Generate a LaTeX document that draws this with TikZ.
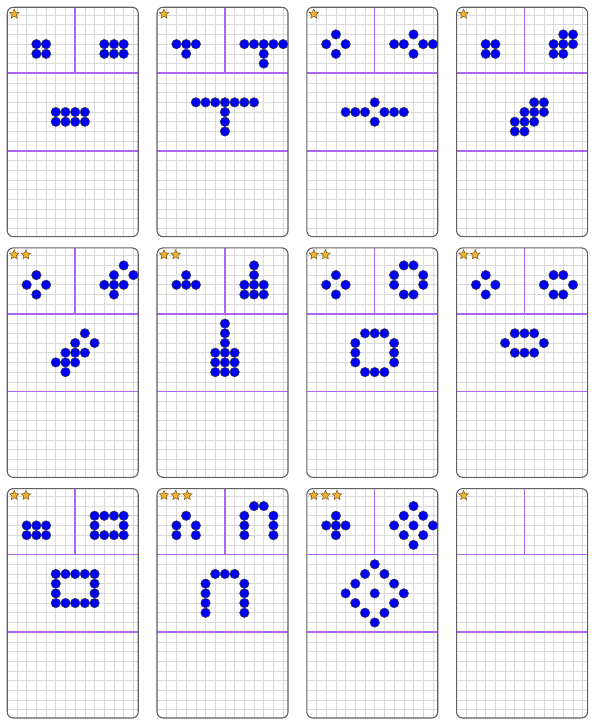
\documentclass[tikz,border=0pt]{standalone}
\usetikzlibrary{shapes.geometric}
\definecolor{gridgray}{HTML}{DADADA}
\definecolor{violet}{HTML}{AC66F2}
\definecolor{edgegray}{HTML}{606060}
\definecolor{counterblue}{HTML}{0000F2}
\definecolor{gold}{HTML}{F2B531}
\definecolor{starline}{HTML}{7A5716}
\tikzset{cardedge/.style={draw=edgegray,line width=1.1bp,rounded corners=6bp},
  gridline/.style={draw=gridgray,line width=0.6bp},
  divider/.style={draw=violet,line width=1.5bp},
  counter/.style={fill=counterblue,draw=black!75,line width=0.5bp},
  starmark/.style={star,star points=5,star point ratio=2.2,minimum size=10bp,
  inner sep=0pt,fill=gold,draw=starline,line width=0.5bp}}

% card frame: column, row, number of stars
\newcommand{\patterncard}[3]{%
  \begin{scope}[shift={({0.75+15.44*#1},{0.75+24.81*#2})}]
    \begin{scope}
      \clip[rounded corners=6bp] (0,0) rectangle (13.5,23.65);
      \foreach \gx in {1,...,13} \draw[gridline] (\gx,0) -- (\gx,23.65);
      \foreach \gy in {-6,...,16} \draw[gridline] (0,{6.8+\gy}) -- (13.5,{6.8+\gy});
    \end{scope}
    \draw[divider] (7,0) -- (7,6.8) (0,6.8) -- (13.5,6.8) (0,14.8) -- (13.5,14.8);
    \foreach \s in {1,...,#3}
      \node[starmark] (star\s) at ({0.72+1.2*(\s-1)},0.7) {};
    \draw[cardedge] (0,0) rectangle (13.5,23.65);
  \end{scope}}
% counters, y counted from the upper divider
\newcommand{\counters}[3]{%
  \begin{scope}[shift={({0.75+15.44*#1},{0.75+24.81*#2+6.8})}]
    \foreach \dx/\dy in {#3} \draw[counter] (\dx,\dy) circle (0.49);
  \end{scope}}

\begin{document}
\begin{tikzpicture}[x=9.7bp,y=-9.7bp]
\useasboundingbox (0,0) rectangle (61.34,75.05);
\patterncard{0}{0}{1}
\counters{0}{0}{3/-3,4/-3,3/-2,4/-2, 10/-3,11/-3,12/-3,10/-2,11/-2,12/-2,
  5/4,6/4,7/4,8/4,5/5,6/5,7/5,8/5}
\patterncard{1}{0}{1}
\counters{1}{0}{2/-3,3/-3,4/-3,3/-2, 9/-3,10/-3,11/-3,12/-3,13/-3,11/-2,11/-1,
  4/3,5/3,6/3,7/3,8/3,9/3,10/3,7/4,7/5,7/6}
\patterncard{2}{0}{1}
\counters{2}{0}{3/-4,2/-3,4/-3,3/-2, 9/-3,10/-3,11/-4,11/-2,12/-3,13/-3,
  4/4,5/4,6/4,7/3,7/5,8/4,9/4,10/4}
\patterncard{3}{0}{1}
\counters{3}{0}{3/-3,4/-3,3/-2,4/-2, 11/-4,12/-4,10/-3,11/-3,12/-3,10/-2,11/-2,
  8/3,9/3,7/4,8/4,9/4,6/5,7/5,8/5,6/6,7/6}
\patterncard{0}{1}{2}
\counters{0}{1}{3/-4,2/-3,4/-3,3/-2, 12/-5,11/-4,13/-4,10/-3,11/-3,12/-3,11/-2,
  8/2,7/3,9/3,6/4,7/4,8/4,5/5,6/5,7/5,6/6}
\patterncard{1}{1}{2}
\counters{1}{1}{3/-4,2/-3,3/-3,4/-3, 10/-5,10/-4,9/-3,10/-3,11/-3,9/-2,10/-2,11/-2,
  7/1,7/2,7/3,6/4,7/4,8/4,6/5,7/5,8/5,6/6,7/6,8/6}
\patterncard{2}{1}{2}
\counters{2}{1}{3/-4,2/-3,4/-3,3/-2, 10/-5,11/-5,9/-4,12/-4,9/-3,12/-3,10/-2,11/-2,
  6/2,7/2,8/2,5/3,9/3,5/4,9/4,5/5,9/5,6/6,7/6,8/6}
\patterncard{3}{1}{2}
\counters{3}{1}{3/-4,2/-3,4/-3,3/-2, 10/-4,11/-4,9/-3,12/-3,10/-2,11/-2,
  6/2,7/2,8/2,5/3,9/3,6/4,7/4,8/4}
\patterncard{0}{2}{2}
\counters{0}{2}{2/-3,3/-3,4/-3,2/-2,3/-2,4/-2,
  9/-4,10/-4,11/-4,12/-4,9/-3,12/-3,9/-2,10/-2,11/-2,12/-2,
  5/2,6/2,7/2,8/2,9/2,5/3,9/3,5/4,9/4,5/5,6/5,7/5,8/5,9/5}
\patterncard{1}{2}{3}
\counters{1}{2}{3/-4,2/-3,4/-3,2/-2,4/-2, 10/-5,11/-5,9/-4,12/-4,9/-3,12/-3,9/-2,12/-2,
  6/2,7/2,8/2,5/3,9/3,5/4,9/4,5/5,9/5,5/6,9/6}
\patterncard{2}{2}{3}
\counters{2}{2}{3/-4,2/-3,3/-3,4/-3,3/-2,
  11/-5,10/-4,12/-4,9/-3,11/-3,13/-3,10/-2,12/-2,11/-1,
  7/1,6/2,8/2,5/3,9/3,4/4,7/4,10/4,5/5,9/5,6/6,8/6,7/7}
\patterncard{3}{2}{1}
\end{tikzpicture}
\end{document}
